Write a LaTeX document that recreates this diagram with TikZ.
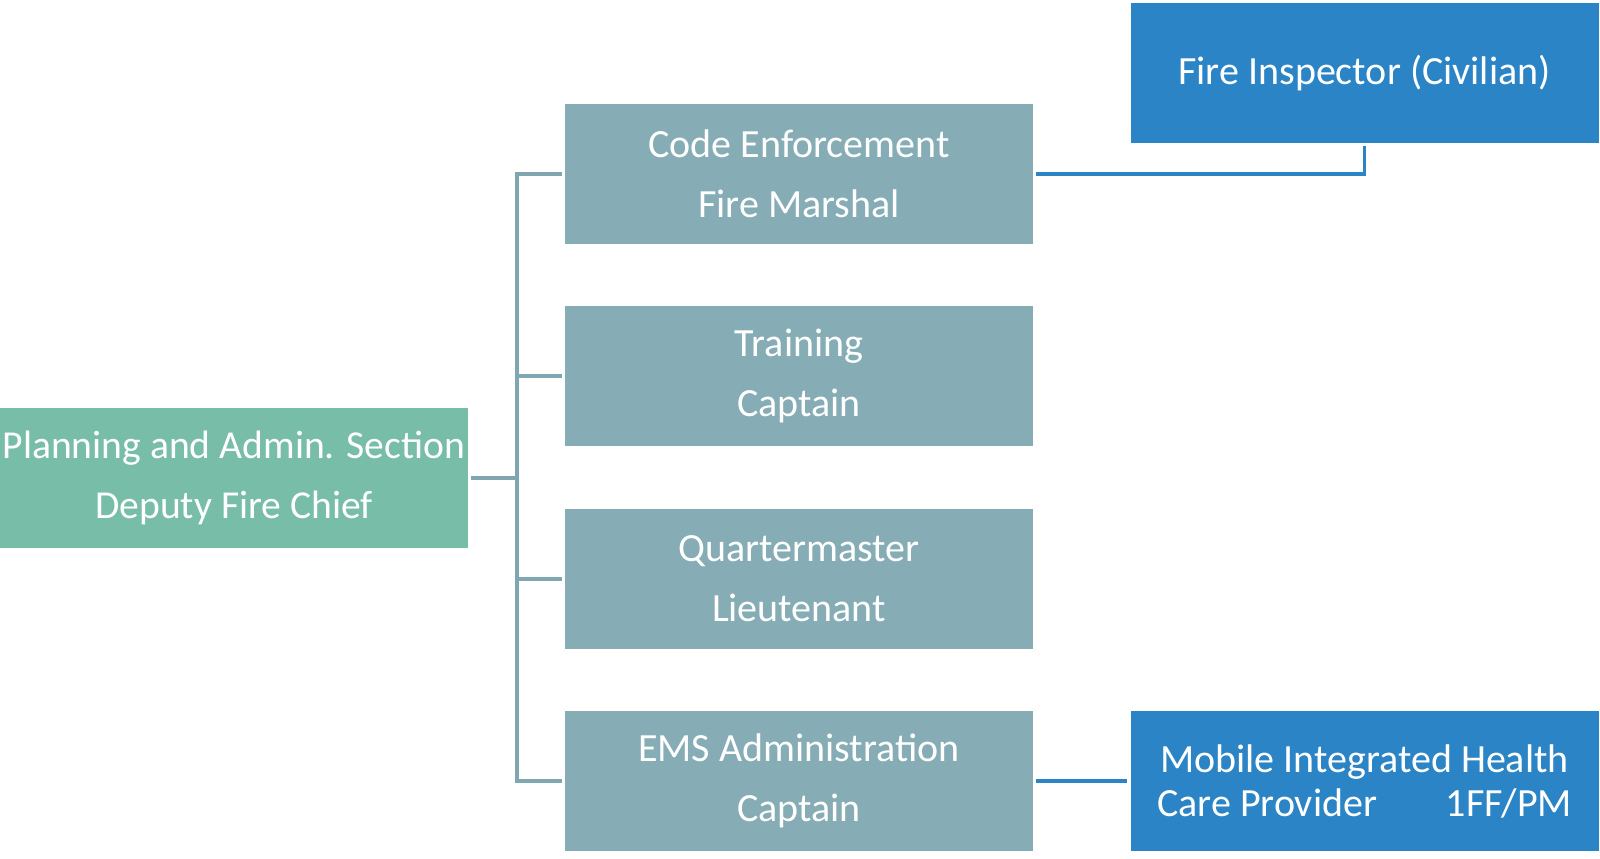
\documentclass[tikz,border=0pt]{standalone}
\usepackage{fontspec}
\setmainfont{Carlito}
\definecolor{plangreen}{HTML}{77BDA7}
\definecolor{midgray}{HTML}{86ACB5}
\definecolor{linegray}{HTML}{80A7B1}
\definecolor{bluebox}{HTML}{2A84C6}
\tikzset{
  box/.style={rectangle, inner sep=0pt, minimum width=468*0.75pt, minimum height=140*0.75pt,
    text=white, align=center, font=\fontsize{30}{45}\selectfont},
  greenbox/.style={box, fill=plangreen},
  graybox/.style={box, fill=midgray},
  bluenode/.style={box, fill=bluebox},
  conn/.style={draw=linegray, line width=2.6pt},
  bconn/.style={draw=bluebox, line width=2.6pt},
}
\begin{document}
\begin{tikzpicture}[x=0.75pt, y=-0.75pt]
\useasboundingbox (0,0) rectangle (1600,858);
\node[greenbox, font=\fontsize{29.7}{45}\selectfont] (plan) at (234,478) {Planning and Admin. Section\\Deputy Fire Chief};
\node[graybox] (code) at (799,174) {Code Enforcement\\Fire Marshal};
\node[graybox] (train) at (799,376) {Training\\Captain};
\node[graybox] (qm) at (799,579) {Quartermaster\\Lieutenant};
\node[graybox] (ems) at (799,781) {EMS Administration\\Captain};
\node[bluenode] (fi) at (1364.5,73) {Fire Inspector (Civilian)};
\node[bluenode, font=\fontsize{30}{33}\selectfont] (mih) at (1364.5,781) {Mobile Integrated Health\\\makebox[311pt]{Care Provider\hfill 1FF/PM}};
\coordinate (tj) at (517,478);
\draw[conn, shorten <=3*0.75pt] (plan.east) -- (tj);
\draw[conn, shorten <=3*0.75pt, shorten >=3*0.75pt] (code.west) -- (tj|-code.west) -- (tj|-ems.west) -- (ems.west);
\draw[conn, shorten >=3*0.75pt] (tj|-train.west) -- (train.west);
\draw[conn, shorten >=3*0.75pt] (tj|-qm.west) -- (qm.west);
\draw[bconn, shorten <=3*0.75pt, shorten >=3*0.75pt] (code.east) -| (fi.south);
\draw[bconn, shorten <=3*0.75pt, shorten >=3*0.75pt] (ems.east) -- (mih.west);
\end{tikzpicture}
\end{document}
